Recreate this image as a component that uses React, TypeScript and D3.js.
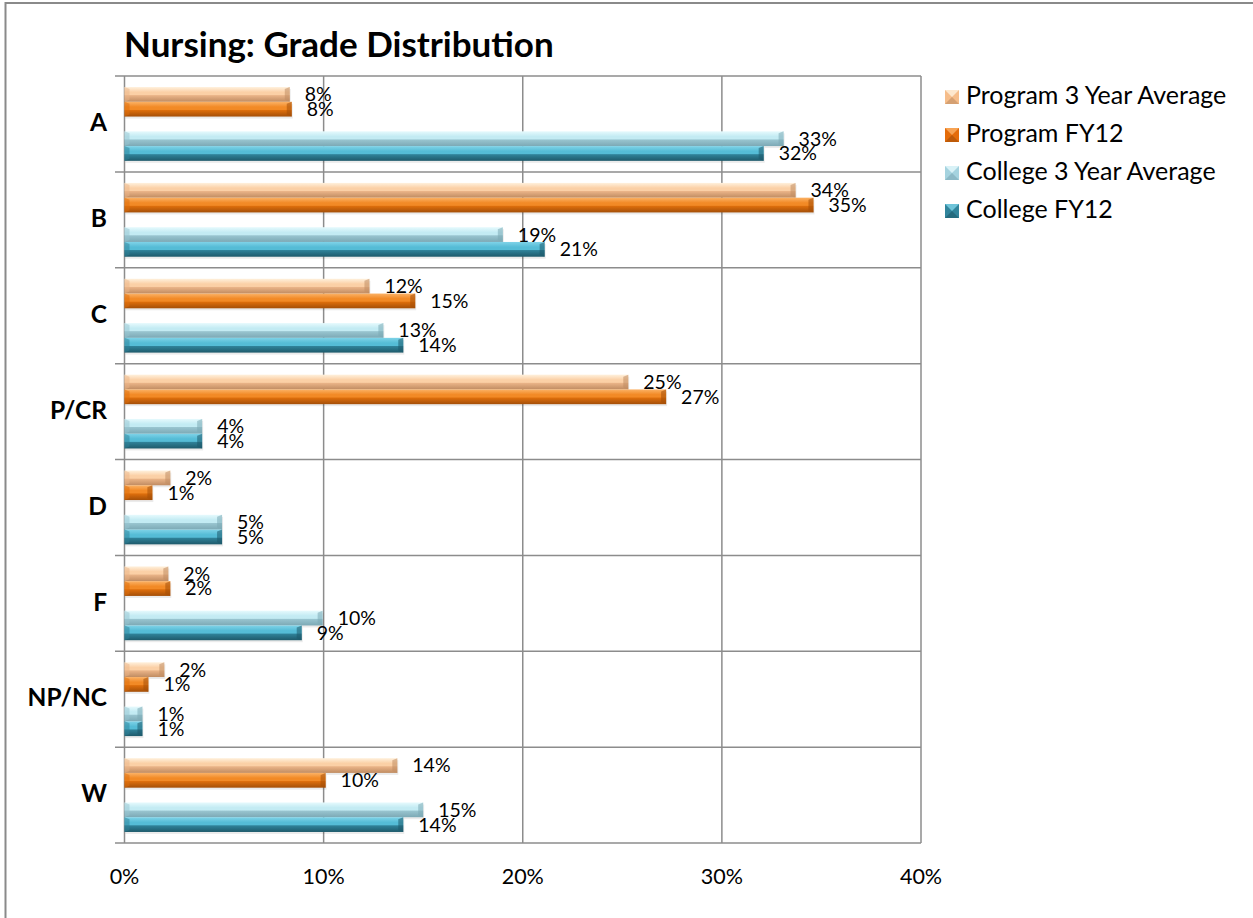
import React from "react";
import * as d3 from "d3";

const categories = ["A", "B", "C", "P/CR", "D", "F", "NP/NC", "W"];
const seriesNames = ["Program 3 Year Average", "Program FY12", "College 3 Year Average", "College FY12"];
const program3yr = [0.083, 0.337, 0.123, 0.253, 0.023, 0.022, 0.020, 0.137];
const programFY12 = [0.084, 0.346, 0.146, 0.272, 0.014, 0.023, 0.012, 0.101];
const college3yr = [0.331, 0.190, 0.130, 0.039, 0.049, 0.0995, 0.009, 0.150];
const collegeFY12 = [0.321, 0.211, 0.140, 0.039, 0.049, 0.089, 0.009, 0.140];
const xTicks = [0, 0.1, 0.2, 0.3, 0.4];

const seriesValues = [program3yr, programFY12, college3yr, collegeFY12];
const slots = [0, 1, 3, 4];

const palettes = [
  { top: "#fff1dd", mid: "#fbd0a6", low: "#e9b387", bot: "#c08c62", legend: "#f6bd8a" },
  { top: "#fbb266", mid: "#f28a26", low: "#dd6e0c", bot: "#a44f08", legend: "#e46c0a" },
  { top: "#e6fafd", mid: "#c3ebf3", low: "#98c4cf", bot: "#7ca9b5", legend: "#a5d3df" },
  { top: "#7fd3e8", mid: "#55bcd6", low: "#2f8198", bot: "#1e5a6b", legend: "#31859c" },
];

const FONT = "Lato, Calibri, Carlito, 'Liberation Sans', sans-serif";

export default function App() {
  const W = 1253, H = 918;
  const left = 124.5, right = 921, top = 76, bottom = 843;
  const x = d3.scaleLinear().domain([0, 0.4]).range([left, right]);
  const y = d3.scaleBand<string>().domain(categories).range([top, bottom]).paddingInner(0).paddingOuter(0);
  const bw = y.bandwidth();
  const groupPad = bw * 0.115;
  const inner = d3.scaleBand<number>().domain([0, 1, 2, 3, 4]).range([groupPad, bw - groupPad]).padding(0);
  const bh = inner.bandwidth();
  const gridColor = "#8c8c8c";

  return (
    <svg width={W} height={H} style={{ position: "absolute", left: 0, top: 0, background: "#fff" }} fontFamily={FONT}>
      <defs>
        {palettes.map((p, i) => (
          <linearGradient key={i} id={`g${i}`} x1="0" y1="0" x2="0" y2="1">
            <stop offset="0%" stopColor={p.top} />
            <stop offset="35%" stopColor={p.mid} />
            <stop offset="52%" stopColor={p.mid} />
            <stop offset="58%" stopColor={p.low} />
            <stop offset="100%" stopColor={p.bot} />
          </linearGradient>
        ))}
      </defs>
      <rect x={5.5} y={3} width={W + 10} height={H + 10} fill="none" stroke="#8a8a8a" strokeWidth={2} />
      <text x={124} y={57} fontSize={35} fontWeight="bold" fill="#000">Nursing: Grade Distribution</text>

      {xTicks.map((t) => (
        <line key={t} x1={x(t)} x2={x(t)} y1={top} y2={bottom} stroke={gridColor} strokeWidth={1.5} />
      ))}
      {categories.map((c) => (
        <line key={c} x1={115} x2={right} y1={y(c)!} y2={y(c)!} stroke={gridColor} strokeWidth={1.5} />
      ))}
      <line x1={115} x2={right} y1={bottom} y2={bottom} stroke={gridColor} strokeWidth={1.5} />

      {categories.map((c, ci) =>
        seriesValues.map((vals, si) => {
          const v = vals[ci];
          const by = y(c)! + inner(slots[si])!;
          const x0 = x(0);
          const x1 = x(v);
          const bev = Math.min(5, (x1 - x0) / 3);
          return (
            <g key={`${c}-${si}`}>
              <rect x={x0 + 1} y={by + 2} width={x1 - x0} height={bh} fill="#000" opacity={0.08} />
              <rect x={x0} y={by} width={x1 - x0} height={bh} fill={`url(#g${si})`} />
              <polygon
                points={`${x1 - bev},${by + 2} ${x1},${by} ${x1},${by + bh} ${x1 - bev},${by + bh - 2}`}
                fill={palettes[si].bot}
                opacity={0.55}
              />
              <polygon
                points={`${x0},${by} ${x0 + bev},${by + 2} ${x0 + bev},${by + bh - 2} ${x0},${by + bh}`}
                fill={palettes[si].low}
                opacity={0.5}
              />
              <text x={x1 + 15} y={by + bh / 2 + 2} fontSize={19.5} dominantBaseline="middle" fill="#000">
                {Math.round(v * 100) + "%"}
              </text>
            </g>
          );
        })
      )}

      {categories.map((c) => (
        <text key={c} x={107} y={y(c)! + bw / 2 + 1} fontSize={24.5} fontWeight="bold" textAnchor="end" dominantBaseline="middle" fill="#000">
          {c}
        </text>
      ))}

      {xTicks.map((t) => (
        <text key={t} x={x(t)} y={879} fontSize={21.5} textAnchor="middle" dominantBaseline="middle" fill="#000">
          {d3.format(".0%")(t)}
        </text>
      ))}

      {seriesNames.map((n, i) => (
        <g key={n} transform={`translate(945, ${97 + i * 38})`}>
          <rect x={0} y={-7} width={14} height={14} fill={palettes[i].legend} />
          <polygon points="0,-7 14,-7 7,0" fill={palettes[i].top} opacity={0.8} />
          <polygon points="0,7 14,7 7,0" fill={palettes[i].bot} opacity={0.6} />
          <text x={21} y={1} fontSize={25} dominantBaseline="middle" fill="#000">{n}</text>
        </g>
      ))}
    </svg>
  );
}
